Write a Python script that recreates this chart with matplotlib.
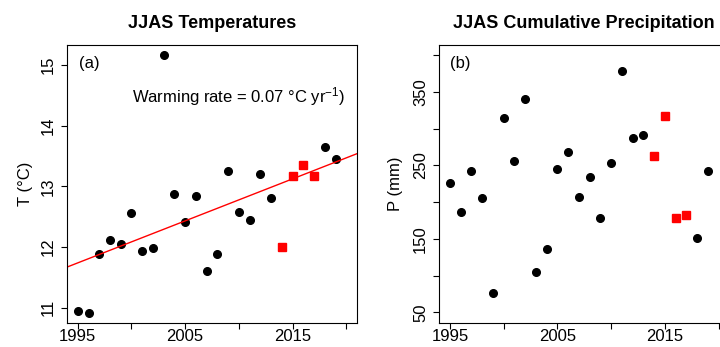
import numpy as np
import matplotlib
matplotlib.use('Agg')
import matplotlib.pyplot as plt

plt.rcParams['font.family'] = ['Liberation Sans', 'DejaVu Sans']
plt.rcParams['mathtext.fontset'] = 'custom'
plt.rcParams['mathtext.rm'] = 'Liberation Sans'
plt.rcParams['mathtext.it'] = 'Liberation Sans:italic'

# JJAS data, 1995-2019 (2014-2017 highlighted)
years = np.arange(1995, 2020)
temp = [10.94, 10.92, 11.88, 12.11, 12.05, 12.56, 11.93, 11.98, 15.16, 12.88,
        12.42, 12.85, 11.60, 11.88, 13.25, 12.58, 12.45, 13.20, 12.81, 12.00,
        13.18, 13.36, 13.18, 13.65, 13.46]
precip = [226, 187, 242, 206, 77, 314, 256, 340, 105, 137,
          245, 269, 207, 234, 178, 254, 379, 287, 292, 263,
          318, 179, 183, 151, 243]
highlight_years = [2014, 2015, 2016, 2017]

years = np.array(years)
temp = np.array(temp)
precip = np.array(precip)
hl = np.isin(years, highlight_years)

# linear trend of temperature
slope, intercept = np.polyfit(years, temp, 1)

fig = plt.figure(figsize=(7.2, 3.47), dpi=100)
ax1 = fig.add_axes([0.0931, 0.070, 0.4028, 0.8003])
ax2 = fig.add_axes([0.6101, 0.070, 0.4028, 0.8003])

def style_axis(ax, yticks, ylabels_shown):
    ax.set_xlim(1994, 2021)
    ax.set_xticks([1995, 2000, 2005, 2010, 2015, 2020])
    ax.set_xticklabels(['1995', '', '2005', '', '2015', ''])
    ax.set_yticks(yticks)
    ax.set_yticklabels([str(t) if t in ylabels_shown else '' for t in yticks])
    ax.tick_params(direction='out', length=4, width=0.8, labelsize=12, colors='black')
    ax.tick_params(axis='x', pad=0.5)
    ax.tick_params(axis='y', pad=4)
    for lab in ax.get_yticklabels():
        lab.set_rotation(90)
        lab.set_va('center')
    for s in ax.spines.values():
        s.set_linewidth(0.8)

# (a) temperatures
ax1.plot(years[~hl], temp[~hl], 'o', color='black', ms=5.5)
ax1.plot(years[hl], temp[hl], 's', color='red', ms=5.5)
ax1.axline((1994, intercept + slope * 1994), slope=slope, color='red', lw=1)
ax1.set_ylim(10.755, 15.33)
style_axis(ax1, [11, 12, 13, 14, 15], [11, 12, 13, 14, 15])
ax1.set_ylabel('T (°C)', fontsize=12)
ax1.yaxis.set_label_coords(-0.116, 0.5)
ax1.set_title('JJAS Temperatures', fontsize=13, fontweight='bold', pad=12.5)
ax1.text(0.041, 0.932, '(a)', transform=ax1.transAxes, fontsize=12, ha='left', va='center')
ax1.text(0.59, 0.814, r'Warming rate = 0.07 °C yr$^{-1}$)', transform=ax1.transAxes,
         fontsize=12, ha='center', va='center')

# (b) precipitation
ax2.plot(years[~hl], precip[~hl], 'o', color='black', ms=5.5)
ax2.plot(years[hl], precip[hl], 's', color='red', ms=5.5)
ax2.set_ylim(36, 414)
style_axis(ax2, [50, 100, 150, 200, 250, 300, 350, 400], [50, 150, 250, 350])
ax2.set_ylabel('P (mm)', fontsize=12)
ax2.yaxis.set_label_coords(-0.124, 0.5)
ax2.set_title('JJAS Cumulative Precipitation', fontsize=13, fontweight='bold', pad=12.5)
ax2.text(0.037, 0.932, '(b)', transform=ax2.transAxes, fontsize=12, ha='left', va='center')

fig.savefig('out.png', dpi=100)
